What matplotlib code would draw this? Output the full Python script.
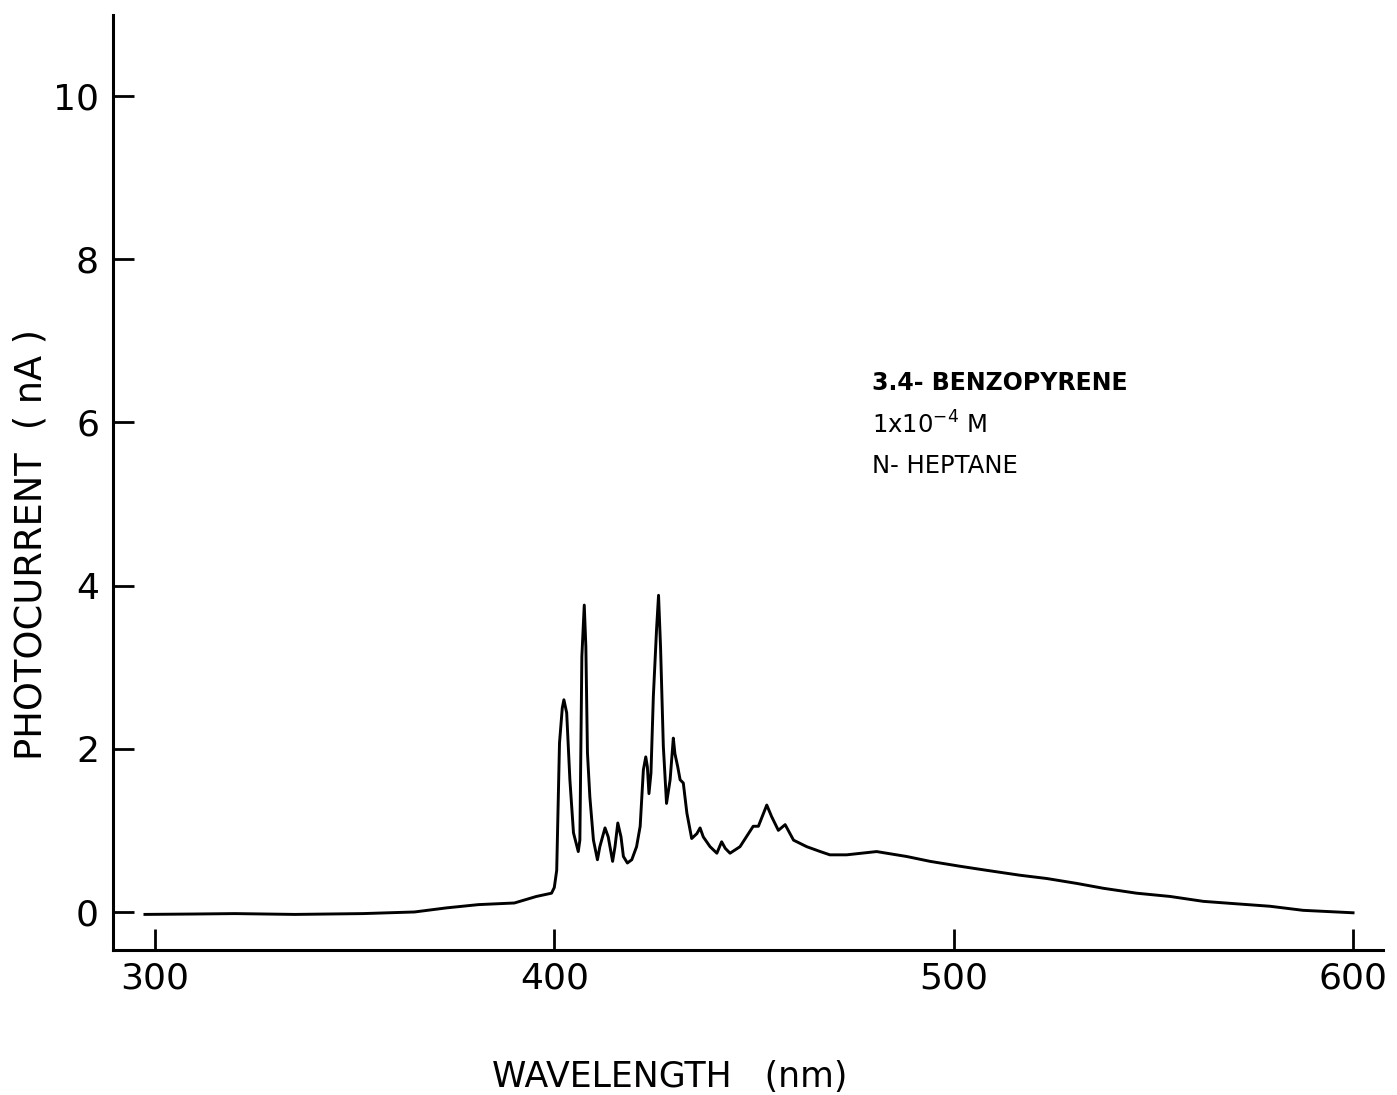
import matplotlib
matplotlib.use("Agg")
import matplotlib.pyplot as plt

# Data (wavelength in nm, photocurrent in nA)
wavelength = [297.5, 310, 320, 335, 352, 365, 373, 381, 390, 395.5, 399.3, 400.0, 400.6,
              401.3, 402.0, 402.4, 403.1, 403.9, 404.8, 406.0, 406.4, 406.9, 407.5, 407.9,
              408.3, 408.9, 409.8, 410.8, 411.4, 412.7, 413.5, 414.6, 415.2, 415.9, 416.7,
              417.3, 418.3, 419.4, 420.6, 421.5, 422.3, 422.9, 423.3, 423.7, 424.2, 424.8,
              425.6, 426.1, 426.6, 427.3, 428.1, 429.0, 429.8, 430.2, 430.9, 431.5, 432.3,
              433.2, 434.4, 435.7, 436.5, 437.3, 439.0, 440.7, 441.9, 442.8, 444.0, 446.5,
              449.8, 451.1, 453.2, 454.4, 456.1, 457.8, 459.9, 463.2, 466.6, 469.0, 473.2,
              480.7, 488.2, 494.1, 501.6, 508.3, 516.6, 523.3, 530.8, 537.5, 545.8, 554.2,
              562.5, 570.8, 579.2, 587.5, 600.0]
photocurrent = [-0.03, -0.025, -0.02, -0.03, -0.02, 0.00, 0.05, 0.09, 0.11, 0.19, 0.23, 0.30, 0.51,
                2.07, 2.50, 2.60, 2.44, 1.62, 0.97, 0.74, 0.88, 3.13, 3.76, 3.25,
                1.95, 1.41, 0.88, 0.64, 0.80, 1.03, 0.92, 0.62, 0.80, 1.09, 0.92,
                0.68, 0.60, 0.64, 0.80, 1.05, 1.74, 1.90, 1.78, 1.45, 1.70, 2.64,
                3.46, 3.88, 3.25, 2.03, 1.33, 1.62, 2.13, 1.94, 1.78, 1.62, 1.58,
                1.21, 0.90, 0.96, 1.03, 0.92, 0.80, 0.72, 0.86, 0.78, 0.72, 0.80,
                1.05, 1.05, 1.31, 1.17, 1.00, 1.07, 0.88, 0.80, 0.74, 0.70, 0.70,
                0.74, 0.68, 0.62, 0.56, 0.51, 0.45, 0.41, 0.35, 0.29, 0.23, 0.19,
                0.13, 0.10, 0.07, 0.02, -0.01]

x_ticks = [300, 400, 500, 600]
y_ticks = [0, 2, 4, 6, 8, 10]
annotation = ["3.4- BENZOPYRENE", "1x10$^{-4}$ M", "N- HEPTANE"]

fig = plt.figure(figsize=(13.97, 10.95), dpi=100)
ax = fig.add_axes([113/1397, 1 - 950/1095, (1383-113)/1397, (950-15)/1095])

ax.plot(wavelength, photocurrent, color="black", linewidth=2.1)

ax.set_xlim(289.5, 607.5)
ax.set_ylim(-0.466, 10.99)
ax.set_xticks(x_ticks)
ax.set_yticks(y_ticks)
ax.set_xticklabels([str(v) for v in x_ticks])
ax.set_yticklabels([str(v) for v in y_ticks])

for s in ["top", "right"]:
    ax.spines[s].set_visible(False)
for s in ["left", "bottom"]:
    ax.spines[s].set_linewidth(2.2)

ax.tick_params(axis="both", direction="in", length=15, width=2, labelsize=26)
ax.tick_params(axis="y", pad=10)
ax.tick_params(axis="x", pad=8)

fig.text(670/1397, 1 - 1077/1095, "WAVELENGTH   (nm)", fontsize=25,
         ha="center", va="center")
fig.text(31/1397, 1 - 545/1095, "PHOTOCURRENT  ( nA )", fontsize=26.5,
         ha="center", va="center", rotation=90)

ax.text(479.6, 6.48, annotation[0], fontsize=17, fontweight="bold", va="center", ha="left")
ax.text(479.6, 5.97, annotation[1], fontsize=17.5, va="center", ha="left")
ax.text(479.6, 5.47, annotation[2], fontsize=17.5, va="center", ha="left")

fig.savefig("out.png", dpi=100)
